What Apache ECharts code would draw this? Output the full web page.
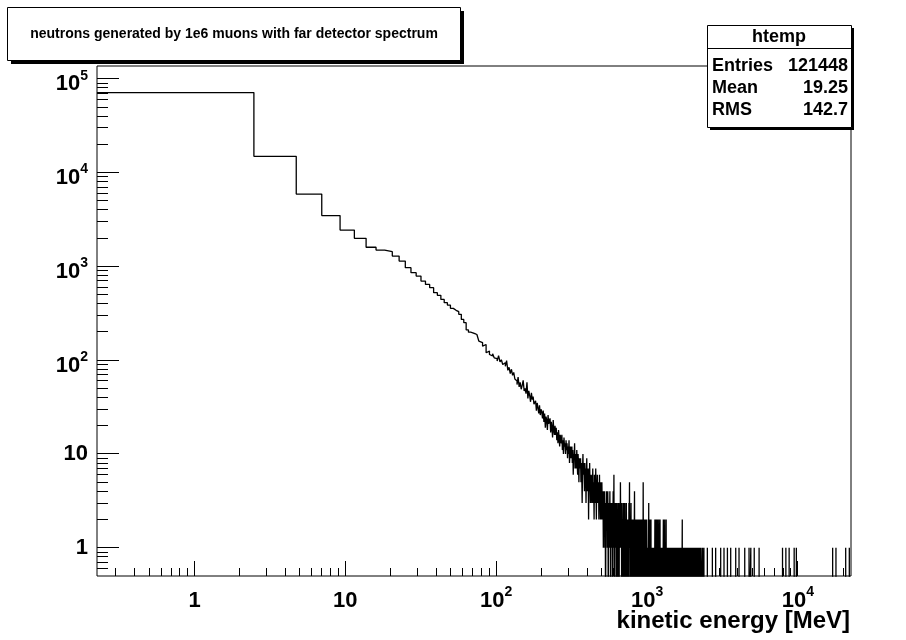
<!DOCTYPE html>
<html>
<head>
<meta charset="utf-8">
<script src="https://cdn.jsdelivr.net/npm/echarts@6/dist/echarts.min.js"></script>
<style>
  html, body { margin: 0; padding: 0; background: #fff; }
  #chart { width: 906px; height: 640px; }
</style>
</head>
<body>
<div id="chart"></div>
<script>
// Histogram binning: 10000 equal bins over the kinetic-energy range (MeV)
const BIN_LOW = 0.2257;
const BIN_WIDTH = 2.2498;
const N_BINS = 10000;

// Axis ranges
const X_MIN = 0.2257, X_MAX = 22500;
const Y_MIN = 0.5, Y_MAX = 1.37e5;
// empty bins are sent below the frame so the outline drops to the bottom
const EMPTY_LEVEL = 0.1;

// Bin contents, bins 0..43 (0.2 - 99 MeV)
const lowEnergyCounts = [
  71300, 14900, 5900, 3480, 2440, 1990, 1600, 1494, 1437, 1290,
  1140, 970, 858, 789, 698, 643, 593, 525, 491, 445,
  410, 387, 357, 340, 329, 308, 272, 251, 210, 199,
  196, 192, 188, 181, 160, 154, 141, 147, 120, 125,
  115, 111, 117, 106
];

// Bin contents, bins 44..444 (99 - 1000 MeV)
const midEnergyCounts = [
  104, 98, 112, 96, 101, 90,
  94, 86, 99, 78, 84, 72, 80, 69, 74, 63,
  60, 55, 66, 52, 58, 49, 54, 61, 47, 50,
  44, 58, 39, 47, 42, 36, 45, 38, 41, 34,
  33, 37, 29, 35, 31, 27, 33, 26, 30, 28,
  24, 29, 22, 27, 19, 25, 23, 18, 26, 21,
  20, 24, 17, 22, 19, 15, 23, 18, 16, 20,
  16, 19, 14, 17, 13, 18, 15, 12, 16, 14,
  13, 16, 11, 14, 10, 15, 12, 13, 10, 14,
  11, 13, 9, 12, 10, 14, 8, 11, 12, 9,
  10, 12, 8, 11, 6, 10, 9, 13, 7, 10,
  9, 7, 11, 8, 6, 10, 8, 5, 9, 7,
  7, 9, 5, 8, 6, 3, 7, 10, 6, 8,
  6, 4, 8, 5, 7, 3, 6, 9, 5, 4,
  5, 7, 2, 6, 4, 8, 5, 3, 6, 4,
  5, 3, 6, 4, 7, 3, 5, 4, 2, 6,
  4, 5, 3, 7, 4, 2, 5, 4, 6, 3,
  4, 3, 5, 2, 4, 6, 3, 4, 2, 5,
  3, 4, 2, 5, 3, 2, 4, 3, 1, 4,
  3, 2, 4, 1, 3, 2, 0, 3, 2, 4,
  2, 3, 1, 2, 4, 2, 0, 3, 2, 1,
  3, 2, 4, 1, 2, 0, 3, 2, 1, 3,
  2, 1, 3, 0, 2, 4, 1, 2, 6, 1,
  2, 0, 3, 2, 1, 2, 3, 1, 2, 0,
  2, 3, 1, 2, 0, 2, 1, 3, 2, 1,
  0, 2, 1, 3, 2, 1, 5, 2, 3, 1,
  2, 1, 0, 2, 3, 1, 2, 0, 1, 2,
  1, 3, 2, 0, 1, 2, 1, 3, 0, 2,
  1, 2, 0, 1, 3, 1, 2, 1, 0, 2,
  1, 0, 2, 1, 2, 0, 1, 3, 1, 2,
  5, 1, 2, 1, 0, 2, 1, 1, 3, 0,
  1, 2, 0, 1, 1, 2, 0, 1, 2, 1,
  0, 1, 2, 1, 0, 1, 2, 4, 1, 0,
  1, 0, 2, 1, 1, 0, 2, 1, 0, 1,
  2, 1, 0, 1, 2, 0, 1, 1, 0, 2,
  1, 0, 1, 2, 0, 1, 1, 0, 2, 1,
  0, 2, 1, 1, 0, 2, 1, 0, 1, 2,
  1, 0, 2, 1, 0, 1, 2, 0, 1, 5,
  1, 0, 2, 1, 0, 1, 0, 2, 1, 0,
  1, 2, 0, 1, 0, 1, 2, 0, 1, 0,
  2, 1, 0, 1, 0
];

// Sparse entries above 1 GeV: [kinetic energy (MeV), entries]
const highEnergyHits = [
  [1012, 1], [1021, 2], [1028, 3], [1037, 1], [1046, 2], [1055, 1], [1064, 2],
  [1076, 1], [1085, 1], [1097, 1], [1108, 1], [1118, 1], [1129, 2], [1140, 1],
  [1149, 2], [1161, 1], [1172, 2], [1184, 1], [1195, 2], [1207, 1], [1220, 2],
  [1234, 1], [1246, 1], [1258, 1], [1271, 1], [1284, 2], [1298, 1], [1311, 2],
  [1327, 1], [1341, 2], [1353, 1],
  [1368, 1], [1381, 1], [1395, 1], [1410, 1], [1424, 1], [1437, 1], [1452, 1],
  [1466, 1], [1480, 1], [1494, 1], [1521, 1], [1536, 1], [1551, 1], [1567, 1],
  [1583, 1], [1598, 1], [1613, 1], [1630, 1], [1646, 1], [1662, 1], [1679, 1],
  [1696, 1], [1714, 2], [1729, 1], [1752, 1], [1769, 1], [1787, 1], [1805, 1],
  [1823, 1], [1842, 1], [1860, 1], [1879, 1], [1898, 1], [1916, 1], [1936, 1],
  [1955, 1], [1975, 1], [1995, 1], [2016, 1], [2036, 1], [2057, 1], [2079, 1],
  [2100, 1], [2121, 1], [2143, 1], [2165, 1], [2188, 1], [2210, 1], [2233, 1],
  [2256, 1], [2280, 1], [2335, 1],
  [2384, 1], [2512, 1], [2712, 1], [2852, 1], [3079, 1], [3238, 1], [3411, 1],
  [3587, 1], [3873, 1], [4074, 1], [4444, 1], [4747, 1], [4876, 1], [5137, 1],
  [5534, 1], [7912, 1], [8325, 1], [8753, 1], [9450, 1], [9772, 1],
  [17006, 1], [17886, 1], [20750, 1], [21930, 1]
];

// Decade tick labels
const xDecades = [1, 10, 100, 1000, 10000];
const yDecades = [1, 10, 100, 1000, 10000, 100000];

// Texts
const titleText = 'neutrons generated by 1e6 muons with far detector spectrum';
const xTitle = 'kinetic energy [MeV]';
const histName = 'htemp';
const statNames = ['Entries', 'Mean', 'RMS'];
const statValues = ['121448', '19.25', '142.7'];

const FONT = '"Liberation Sans", Arial, Helvetica, sans-serif';

// ---- fill the full bin array ----
const counts = new Array(N_BINS).fill(0);
lowEnergyCounts.concat(midEnergyCounts).forEach((c, i) => { counts[i] = c; });
highEnergyHits.forEach(([e, n]) => {
  const i = Math.floor((e - BIN_LOW) / BIN_WIDTH);
  if (i >= 0 && i < N_BINS) counts[i] += n;
});

// ---- step outline of the histogram ----
const edge = i => BIN_LOW + BIN_WIDTH * i;
const outline = [];
let prevLevel = null;
for (let i = 0; i < N_BINS; i++) {
  const level = counts[i] > 0 ? counts[i] : EMPTY_LEVEL;
  if (level === prevLevel) {
    outline[outline.length - 1][0] = edge(i + 1);
    continue;
  }
  outline.push([edge(i), level], [edge(i + 1), level]);
  prevLevel = level;
}

// ---- log tick positions (1..9 per decade) ----
function logTicks(min, max) {
  const out = [];
  const first = Math.floor(Math.log10(min)), last = Math.ceil(Math.log10(max));
  for (let d = first; d <= last; d++) {
    for (let m = 1; m <= 9; m++) {
      const v = m * Math.pow(10, d);
      if (v > min * 1.0001 && v < max / 1.0001) out.push([v, m === 1 ? 1 : 0]);
    }
  }
  return out;
}
const xTicks = logTicks(X_MIN, X_MAX);
const yTicks = logTicks(Y_MIN, Y_MAX);

function isDecade(v, list) {
  return list.some(d => Math.abs(Math.log10(v) - Math.log10(d)) < 1e-6);
}
function decadeLabel(v, list, plain) {
  if (!isDecade(v, list)) return '';
  const e = Math.round(Math.log10(v));
  if (e === 0) return '{' + plain + '|1}';
  if (e === 1) return '{' + plain + '|10}';
  return '{b|10}{e|' + e + '}';
}

const RICH = {
  b: { fontFamily: FONT, fontWeight: 'bold', fontSize: 22, color: '#000',
       height: 22, lineHeight: 33, verticalAlign: 'bottom' },
  e: { fontFamily: FONT, fontWeight: 'bold', fontSize: 14, color: '#000',
       height: 27, lineHeight: 27, verticalAlign: 'top' },
  p: { fontFamily: FONT, fontWeight: 'bold', fontSize: 22, color: '#000',
       lineHeight: 22 }
};

const crisp = x => Math.round(x - 0.5) + 0.5;

const chart = echarts.init(document.getElementById('chart'), null, { renderer: 'canvas' });

chart.setOption({
  animation: false,
  backgroundColor: '#fff',
  grid: {
    left: 97, top: 66, width: 754, height: 510,
    show: true, borderColor: '#000', borderWidth: 1, backgroundColor: 'transparent',
    containLabel: false, outerBoundsMode: 'none'
  },
  xAxis: {
    type: 'log', logBase: 10, min: X_MIN, max: X_MAX,
    axisLine: { show: false }, axisTick: { show: false },
    splitLine: { show: false }, minorTick: { show: false }, minorSplitLine: { show: false },
    axisLabel: {
      margin: 3, hideOverlap: false,
      formatter: v => decadeLabel(v, xDecades, 'b'),
      rich: RICH
    }
  },
  yAxis: {
    type: 'log', logBase: 10, min: Y_MIN, max: Y_MAX,
    axisLine: { show: false }, axisTick: { show: false },
    splitLine: { show: false }, minorTick: { show: false }, minorSplitLine: { show: false },
    axisLabel: {
      margin: 9, hideOverlap: false,
      formatter: v => decadeLabel(v, yDecades, 'p'),
      rich: RICH
    }
  },
  series: [
    {
      name: histName,
      type: 'line',
      data: outline,
      symbol: 'none',
      showSymbol: false,
      clip: true,
      silent: true,
      lineStyle: { color: '#000', width: 1.3 },
      z: 2
    },
    {
      // x-axis ticks, drawn upward from the bottom edge
      type: 'custom',
      silent: true,
      data: xTicks.map(([v, major]) => [v, Y_MIN, major]),
      encode: { x: 0, y: 1 },
      renderItem: (params, api) => {
        const p = api.coord([api.value(0), Y_MIN]);
        const len = api.value(2) ? 15 : 8;
        const x = crisp(p[0]);
        return { type: 'line', shape: { x1: x, y1: p[1], x2: x, y2: p[1] - len },
                 style: { stroke: '#000', lineWidth: 1 } };
      },
      z: 3
    },
    {
      // y-axis ticks, drawn rightward from the left edge
      type: 'custom',
      silent: true,
      data: yTicks.map(([v, major]) => [X_MIN, v, major]),
      encode: { x: 0, y: 1 },
      renderItem: (params, api) => {
        const p = api.coord([X_MIN, api.value(1)]);
        const len = api.value(2) ? 22 : 11;
        const y = crisp(p[1]);
        return { type: 'line', shape: { x1: p[0], y1: y, x2: p[0] + len, y2: y },
                 style: { stroke: '#000', lineWidth: 1 } };
      },
      z: 3
    }
  ],
  graphic: [
    // axis title
    {
      type: 'text', right: 56, top: 609, z: 50,
      style: { text: xTitle, font: 'bold 24px ' + FONT, fill: '#000' }
    },
    // title pave with drop shadow
    {
      type: 'group', x: 7, y: 7, z: 100,
      children: [
        { type: 'rect', shape: { x: 4, y: 4, width: 453, height: 53 }, style: { fill: '#000' } },
        { type: 'rect', shape: { x: 0.5, y: 0.5, width: 453, height: 53 },
          style: { fill: '#fff', stroke: '#000', lineWidth: 1 } },
        { type: 'text', x: 227, y: 27,
          style: { text: titleText, font: 'bold 14px ' + FONT, fill: '#000',
                   align: 'center', verticalAlign: 'middle' } }
      ]
    },
    // statistics box with drop shadow
    {
      type: 'group', x: 707, y: 25, z: 100,
      children: [
        { type: 'rect', shape: { x: 3, y: 3, width: 144, height: 102 }, style: { fill: '#000' } },
        { type: 'rect', shape: { x: 0.5, y: 0.5, width: 144, height: 102 },
          style: { fill: '#fff', stroke: '#000', lineWidth: 1 } },
        { type: 'line', shape: { x1: 0.5, y1: 23.5, x2: 144.5, y2: 23.5 },
          style: { stroke: '#000', lineWidth: 1 } },
        { type: 'text', x: 72, y: 12.5,
          style: { text: histName, font: 'bold 18px ' + FONT, fill: '#000',
                   align: 'center', verticalAlign: 'middle' } }
      ].concat(statNames.map((n, i) => ({
        type: 'text', x: 5, y: 41.5 + 22 * i,
        style: { text: n, font: 'bold 18px ' + FONT, fill: '#000', align: 'left', verticalAlign: 'middle' }
      }))).concat(statValues.map((v, i) => ({
        type: 'text', x: 141, y: 41.5 + 22 * i,
        style: { text: v, font: 'bold 18px ' + FONT, fill: '#000', align: 'right', verticalAlign: 'middle' }
      })))
    }
  ]
});
</script>
</body>
</html>
